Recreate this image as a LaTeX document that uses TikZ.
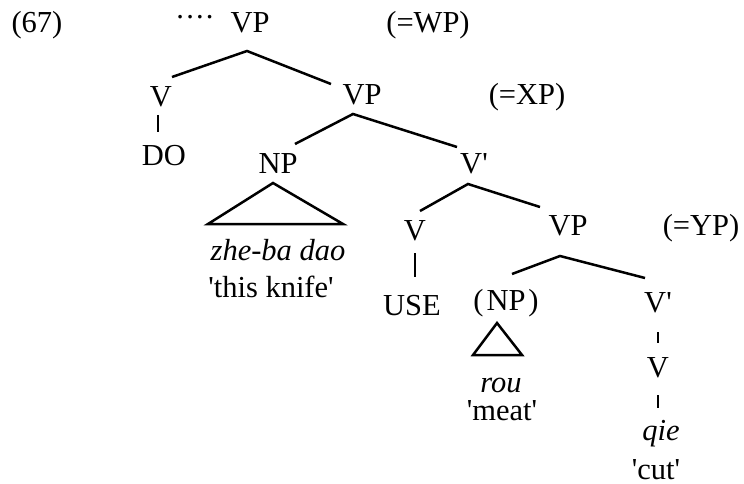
\documentclass[tikz,border=0pt]{standalone}
\usepackage{fontspec}
\setmainfont{Liberation Serif}[Ligatures=TeXOff]
\usetikzlibrary{calc}
\begin{document}
\begin{tikzpicture}[x=1pt,y=-1pt,
  lab/.style={inner sep=0pt,anchor=base,font=\fontsize{30.5}{36}\selectfont},
  branch/.style={line width=2.5pt},
  tri/.style={line width=2.5pt,line join=miter}]
\useasboundingbox (0,0) rectangle (744,484);

% labels, placed by their baselines
\node[lab] (ex)   at (37,33)  {(67)};
\node[lab] (dots) at (195,19) {.\kern2.2pt.\kern2.2pt.\kern2.2pt.};
\node[lab] (vp1)  at (250,33) {VP};
\node[lab] (wp)   at (428,33) {(=WP)};
\node[lab] (v1)   at (161,107) {V};
\node[lab] (do)   at (164,165) {DO};
\node[lab] (vp2)  at (362,105) {VP};
\node[lab] (xp)   at (527,105) {(=XP)};
\node[lab] (np1)  at (278,173) {NP};
\node[lab] (vb1)  at (474,173) {V'};
\node[lab] (zhe)  at (278,260) {\itshape zhe-ba dao};
\node[lab] (knife) at (271,297) {'this knife'};
\node[lab] (v2)   at (415,240) {V};
\node[lab] (use)  at (412,315) {USE};
\node[lab] (vp3)  at (568,235) {VP};
\node[lab] (yp)   at (701,235) {(=YP)};
\node[lab] (np2)  at (506,310) {(\kern3pt NP\kern3pt)};
\node[lab] (rou)  at (501,392) {\itshape rou};
\node[lab] (meat) at (502,420) {'meat'};
\node[lab] (vb2)  at (658,312) {V'};
\node[lab] (v3)   at (658,377) {V};
\node[lab] (qie)  at (661,440) {\itshape qie};
\node[lab] (cut)  at (656,479) {'cut'};

% branches
\draw[branch] ([shift={(11,-30)}]v1.base) -- ([shift={(-3,18)}]vp1.base) -- ([shift={(-31,-21)}]vp2.base);
\draw[branch] ([shift={(-3,8)}]v1.base) -- ([shift={(-3,25)}]v1.base);
\draw[branch] ([shift={(17,-29)}]np1.base) -- ([shift={(-9,9)}]vp2.base) -- ([shift={(-17,-26)}]vb1.base);
\draw[branch] ([shift={(5,-29)}]v2.base) -- ([shift={(-6,11)}]vb1.base) -- ([shift={(-28,-28)}]vp3.base);
\draw[branch] ([shift={(0,13)}]v2.base) -- ([shift={(0,37)}]v2.base);
\draw[branch] ([shift={(6,-36)}]np2.base) -- ([shift={(-8,21)}]vp3.base) -- ([shift={(-13,-34)}]vb2.base);
\draw[branch] ([shift={(0,20)}]vb2.base) -- ([shift={(0,31)}]vb2.base);
\draw[branch] ([shift={(0,18)}]v3.base) -- ([shift={(0,31)}]v3.base);

% triangles
\draw[tri] ([shift={(-5,10)}]np1.base) -- ([shift={(-70,51)}]np1.base) -- ([shift={(65,51)}]np1.base) -- cycle;
\draw[tri] ([shift={(-9,13)}]np2.base) -- ([shift={(-33,45)}]np2.base) -- ([shift={(16,45)}]np2.base) -- cycle;
\end{tikzpicture}
\end{document}
